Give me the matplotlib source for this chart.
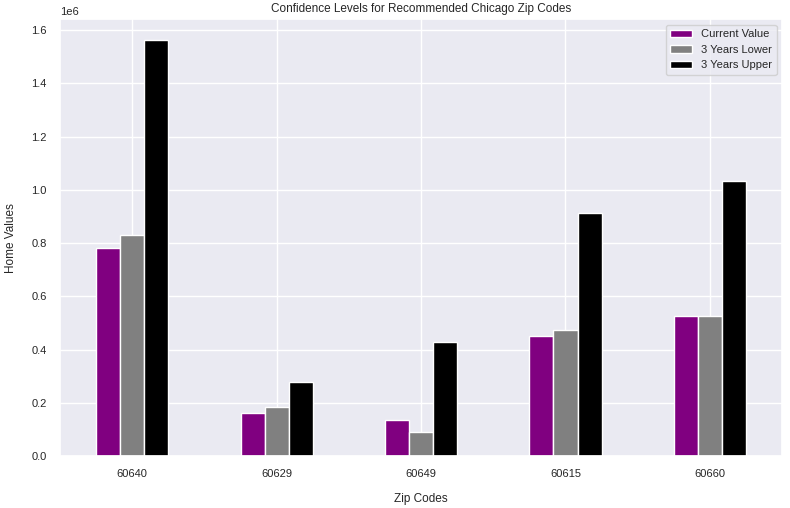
import matplotlib
matplotlib.use("Agg")
import matplotlib.pyplot as plt
import numpy as np
import seaborn as sns

sns.set_theme(style="darkgrid")
plt.rcParams["font.family"] = ["Liberation Sans", "DejaVu Sans"]

zip_codes = ["60640", "60629", "60649", "60615", "60660"]
current_value = [781000, 162000, 136000, 453000, 525000]
lower_3y = [830000, 185000, 91000, 475000, 528000]
upper_3y = [1562000, 279000, 430000, 913000, 1034000]

fig, ax = plt.subplots(figsize=(7.9, 5.08), dpi=100)
x = np.arange(len(zip_codes))
w = 0.5 / 3
ax.bar(x - w, current_value, w, color="purple", label="Current Value")
ax.bar(x, lower_3y, w, color="grey", label="3 Years Lower")
ax.bar(x + w, upper_3y, w, color="black", label="3 Years Upper")

ax.set_xticks(x)
ax.set_xticklabels(zip_codes, fontsize=8)
ax.tick_params(axis="y", labelsize=8)
ax.yaxis.get_offset_text().set_fontsize(8)
ax.set_xlim(-0.5, 4.5)
ax.set_title("Confidence Levels for Recommended Chicago Zip Codes", fontsize=8.5, pad=5)
ax.set_xlabel("Zip Codes", fontsize=8.5, labelpad=10)
ax.set_ylabel("Home Values", fontsize=8.5, labelpad=10)
ax.legend(fontsize=8, loc="upper right")

fig.subplots_adjust(left=0.076, right=0.99, top=0.962, bottom=0.102)
fig.savefig("out.png")
